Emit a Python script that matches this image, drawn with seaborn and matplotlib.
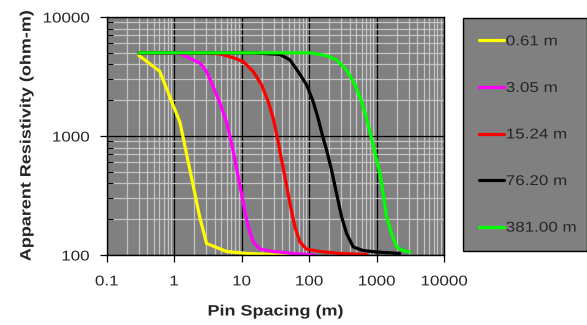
import matplotlib
matplotlib.use("Agg")
import matplotlib.pyplot as plt
import matplotlib.ticker as mticker
from matplotlib.patheffects import AbstractPathEffect
from matplotlib.transforms import Affine2D
import seaborn as sns
import pandas as pd
import numpy as np

# ---- data ----
labels = ["0.61 m", "3.05 m", "15.24 m", "76.20 m", "381.00 m"]
colors = ["#FFFF00", "#FF00FF", "#FF0000", "#000000", "#00FF00"]

yellow_x = [0.3, 0.61, 1.22, 2.41, 3.02, 6.0, 12, 30, 61]
yellow_y = [4750, 3500, 1300, 205, 125, 107, 103, 101, 100]

magenta_x = [0.3, 0.61, 1.22, 2.43, 3.04, 4.77, 6.0, 7.5, 8.9, 10.6, 12.5, 14.9, 18.7, 29.4, 58, 120]
magenta_y = [4990, 4980, 4930, 4085, 3470, 1900, 1300, 750, 455, 272, 173, 129, 112, 107, 103, 100]

red_x = [0.3, 1.22, 3.0, 4.77, 7.5, 10.6, 14.9, 19.8, 24.8, 29.4, 34.8, 43.7, 52, 61.6, 73, 92, 145, 286, 708]
red_y = [5000, 5000, 4970, 4900, 4550, 4210, 3470, 2690, 1943, 1408, 895, 455, 272, 173, 129, 112, 107, 103, 101]

black_x = [0.3, 15, 37, 52, 69, 92, 115, 136, 162, 182, 215, 255, 303, 359, 450, 632, 1000, 2213]
black_y = [5000, 4990, 4850, 4360, 3470, 2690, 1943, 1408, 957, 762, 518, 330, 210, 152, 117, 109, 106, 103]

green_x = [0.3, 100, 115, 182, 255, 359, 478, 600, 711, 843, 944, 1120, 1254, 1406, 1668, 1978, 2480, 3110]
green_y = [5000, 5000, 4950, 4730, 4360, 3590, 2690, 1943, 1408, 957, 725, 486, 330, 210, 152, 117, 109, 106]

xs = [yellow_x, magenta_x, red_x, black_x, green_x]
ys = [yellow_y, magenta_y, red_y, black_y, green_y]

frames = []
for lab, x, y in zip(labels, xs, ys):
    frames.append(pd.DataFrame({"Pin Spacing (m)": x,
                                "Apparent Resistivity (ohm-m)": y,
                                "series": lab}))
df = pd.concat(frames, ignore_index=True)


class HStretch(AbstractPathEffect):
    """Stretch text horizontally (along its baseline) about an anchor."""
    def __init__(self, sx=1.2, anchor="center"):
        super().__init__()
        self.sx = sx
        self.anchor = anchor

    def draw_path(self, renderer, gc, tpath, affine, rgbFace=None):
        ext = tpath.get_extents()
        if self.anchor == "left":
            c = 0.0
        elif self.anchor == "right":
            c = ext.x1
        else:
            c = 0.5 * (ext.x0 + ext.x1)
        t = Affine2D().translate(-c, 0).scale(self.sx, 1.0).translate(c, 0) + affine
        renderer.draw_path(gc, tpath, t, rgbFace)


SX = 1.2

sns.set_theme(style="white")
plt.rcParams["font.family"] = ["Liberation Sans", "DejaVu Sans"]

W, H = 587, 325
fig = plt.figure(figsize=(W / 100, H / 100), dpi=100)
ax = fig.add_axes([106.7 / W, 1 - 255 / H, (444 - 106.7) / W, (255 - 17) / H])
ax.set_facecolor("#808080")

sns.lineplot(data=df, x="Pin Spacing (m)", y="Apparent Resistivity (ohm-m)",
             hue="series", hue_order=labels, palette=colors, sort=False,
             estimator=None, linewidth=2.3, ax=ax, legend=False)

ax.set_xscale("log")
ax.set_yscale("log")
ax.set_xlim(0.1, 10000)
ax.set_ylim(100, 10000)

ax.xaxis.set_major_locator(mticker.LogLocator(base=10, numticks=10))
ax.xaxis.set_minor_locator(mticker.LogLocator(base=10, subs=np.arange(2, 10), numticks=20))
ax.yaxis.set_major_locator(mticker.LogLocator(base=10, numticks=10))
ax.yaxis.set_minor_locator(mticker.LogLocator(base=10, subs=np.arange(2, 10), numticks=20))
fmt = mticker.FuncFormatter(lambda v, p: ("%g" % v))
ax.xaxis.set_major_formatter(fmt)
ax.yaxis.set_major_formatter(fmt)
ax.xaxis.set_minor_formatter(mticker.NullFormatter())
ax.yaxis.set_minor_formatter(mticker.NullFormatter())

ax.set_axisbelow(True)
ax.grid(which="minor", color="#c4c4c4", linewidth=0.9)
ax.grid(which="major", color="#000000", linewidth=0.9)

ax.tick_params(which="major", direction="out", length=5, width=0.9, color="black",
               labelsize=10.2, bottom=True, left=True)
ax.tick_params(axis="x", which="major", pad=9)
ax.tick_params(axis="y", which="major", pad=7.5)
ax.tick_params(axis="x", which="minor", length=0)
ax.tick_params(axis="y", which="minor", direction="in", length=4, width=0.8,
               color="black", left=True)

for s in ax.spines.values():
    s.set_visible(True)
    s.set_color("black")
    s.set_linewidth(1.0)

ax.set_xlabel("Pin Spacing (m)", fontsize=10.8, fontweight="bold")
ax.set_ylabel("Apparent Resistivity (ohm-m)", fontsize=10.8, fontweight="bold")
ax.xaxis.set_label_coords(0.5, (255 - 304.5) / 238)
ax.yaxis.set_label_coords((33.5 - 106.7) / 337.3, 0.5)
ax.xaxis.label.set_path_effects([HStretch(SX, "center")])
ax.yaxis.label.set_path_effects([HStretch(SX, "center")])

fig.canvas.draw()
for t in ax.get_xticklabels():
    t.set_path_effects([HStretch(SX, "center")])
for t in ax.get_yticklabels():
    t.set_path_effects([HStretch(SX, "right")])

handles = [plt.Line2D([], [], color=c, linewidth=2.3) for c in colors]
leg = fig.legend(handles, labels, loc="upper left",
                 bbox_to_anchor=(463 / W, 1 - 250 / H, 124 / W, 232 / H),
                 mode="expand", borderaxespad=0, fontsize=10.2,
                 frameon=True, fancybox=False, facecolor="#808080",
                 edgecolor="black", framealpha=1, handlelength=1.75,
                 handletextpad=0.12, labelspacing=2.3, borderpad=1.15)
leg.get_frame().set_linewidth(1.0)
for t in leg.get_texts():
    t.set_path_effects([HStretch(SX, "left")])

fig.savefig("out.png", dpi=100, facecolor="white")
